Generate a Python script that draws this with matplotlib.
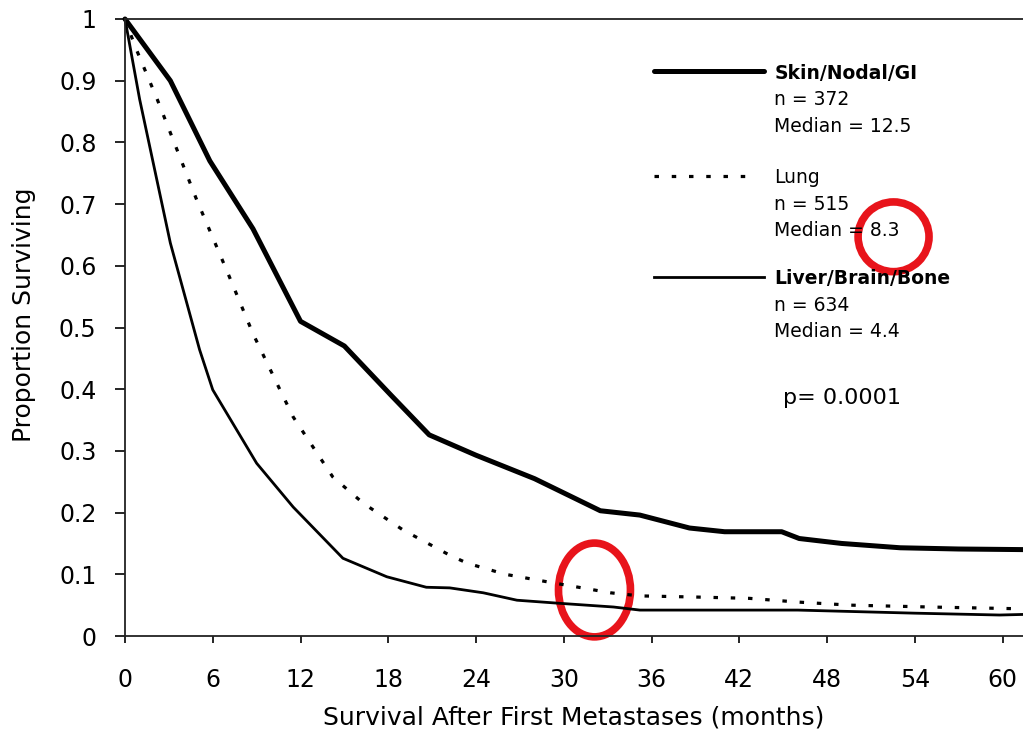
import matplotlib
matplotlib.use("Agg")
import matplotlib.pyplot as plt
from matplotlib.patches import Ellipse
from matplotlib.ticker import FuncFormatter

# Kaplan-Meier style survival estimates by site of first metastasis
skin_months = [0, 3.1, 5.8, 8.75, 12, 15, 18.2, 20.8, 24, 28, 32.5, 35.2, 38.6, 41, 44.9, 46.1, 49, 53, 57, 61.5]
skin_surv = [1.0, 0.90, 0.77, 0.66, 0.51, 0.47, 0.39, 0.326, 0.293, 0.255, 0.203, 0.196, 0.175, 0.169, 0.169, 0.158, 0.150, 0.143, 0.141, 0.140]

lung_months = [0, 0.7, 2.2, 4.9, 7, 8.75, 10.7, 11.5, 14.2, 16.3, 19, 22.2, 23.4, 26, 29.3, 33.2, 35.2, 39.3, 42.7, 46, 49.6, 55, 61.5]
lung_surv = [1.0, 0.955, 0.87, 0.707, 0.59, 0.49, 0.394, 0.355, 0.258, 0.215, 0.172, 0.131, 0.118, 0.10, 0.086, 0.07, 0.065, 0.063, 0.061, 0.055, 0.05, 0.047, 0.044]

liver_months = [0, 1.0, 3.1, 5.1, 6.0, 9.0, 11.5, 14.9, 17.9, 20.6, 22.2, 24.5, 26.8, 29.7, 33.4, 35.2, 39.3, 42.7, 46, 54, 59.8, 61.5]
liver_surv = [1.0, 0.87, 0.637, 0.464, 0.399, 0.28, 0.209, 0.126, 0.096, 0.079, 0.078, 0.07, 0.058, 0.053, 0.047, 0.042, 0.042, 0.042, 0.042, 0.037, 0.034, 0.035]

group_names = ["Skin/Nodal/GI", "Lung", "Liver/Brain/Bone"]
group_n = [372, 515, 634]
group_median = ["12.5", "8.3", "4.4"]
p_value_text = "p= 0.0001"

x_ticks = list(range(0, 61, 6))
y_ticks = [i / 10 for i in range(11)]

FONT = "DejaVu Sans"
plt.rcParams["font.family"] = FONT

fig = plt.figure(figsize=(10.23, 7.33), dpi=100)
ax = fig.add_axes([125 / 1023, 97 / 733, 1 - 125 / 1023, (714 - 97) / 733])
ax.set_xlim(0, 61.4)
ax.set_ylim(0, 1)

thick = dict(color="black", lw=3.6, solid_joinstyle="round", solid_capstyle="round")
thin = dict(color="black", lw=2.0, solid_joinstyle="round")
dotted = dict(color="black", lw=2.3, linestyle=(0, (1.4, 4.0)), dash_capstyle="butt")

ax.plot(skin_months, skin_surv, **thick, clip_on=False)
ax.plot(lung_months, lung_surv, **dotted, clip_on=False)
ax.plot(liver_months, liver_surv, **thin, clip_on=False)

# Spines and ticks
ax.spines["right"].set_visible(False)
for side in ("left", "top", "bottom"):
    ax.spines[side].set_linewidth(1.3)
    ax.spines[side].set_color("#222222")

ax.set_xticks(x_ticks)
ax.set_yticks(y_ticks)
ax.yaxis.set_major_formatter(FuncFormatter(lambda v, _: "%g" % round(v, 1)))
ax.tick_params(axis="y", direction="out", length=7.5, width=1.2, pad=13, labelsize=17)
ax.tick_params(axis="x", direction="out", length=5, width=1.2, pad=18, labelsize=17)

ax.set_xlabel("Survival After First Metastases (months)", fontsize=18, va="center")
ax.xaxis.set_label_coords(0.5, -(717 - 636) / 617)
ax.set_ylabel("Proportion Surviving", fontsize=18, va="center")
ax.yaxis.set_label_coords(-(125 - 24) / 898, 0.52)

# Legend block drawn as a key with multi-line captions
key_x0, key_x1, txt_x = 36.2, 43.7, 44.4
key_y = [0.915, 0.746, 0.582]
styles = [thick, dotted, thin]
for i in range(3):
    st = dict(styles[i])
    ax.plot([key_x0, key_x1 if i != 1 else 43.2], [key_y[i], key_y[i]], **st)
    ax.text(txt_x, key_y[i] - 0.003, group_names[i], fontsize=13.5,
            fontweight="bold" if i != 1 else "normal", va="center", ha="left")
    ax.text(txt_x, key_y[i] - 0.046, "n = %d" % group_n[i], fontsize=13.5, va="center", ha="left")
    ax.text(txt_x, key_y[i] - 0.089, "Median = %s" % group_median[i], fontsize=13.5, va="center", ha="left")

ax.text(45.0, 0.386, p_value_text, fontsize=16, va="center", ha="left")

# Red highlight rings
ax.add_patch(Ellipse((52.55, 0.647), 4.85, 0.113, fill=False, edgecolor="#e8141b", lw=5.5, clip_on=False))
ax.add_patch(Ellipse((32.1, 0.0746), 4.92, 0.152, fill=False, edgecolor="#e8141b", lw=5.5, clip_on=False))

fig.savefig("out.png", dpi=100)
